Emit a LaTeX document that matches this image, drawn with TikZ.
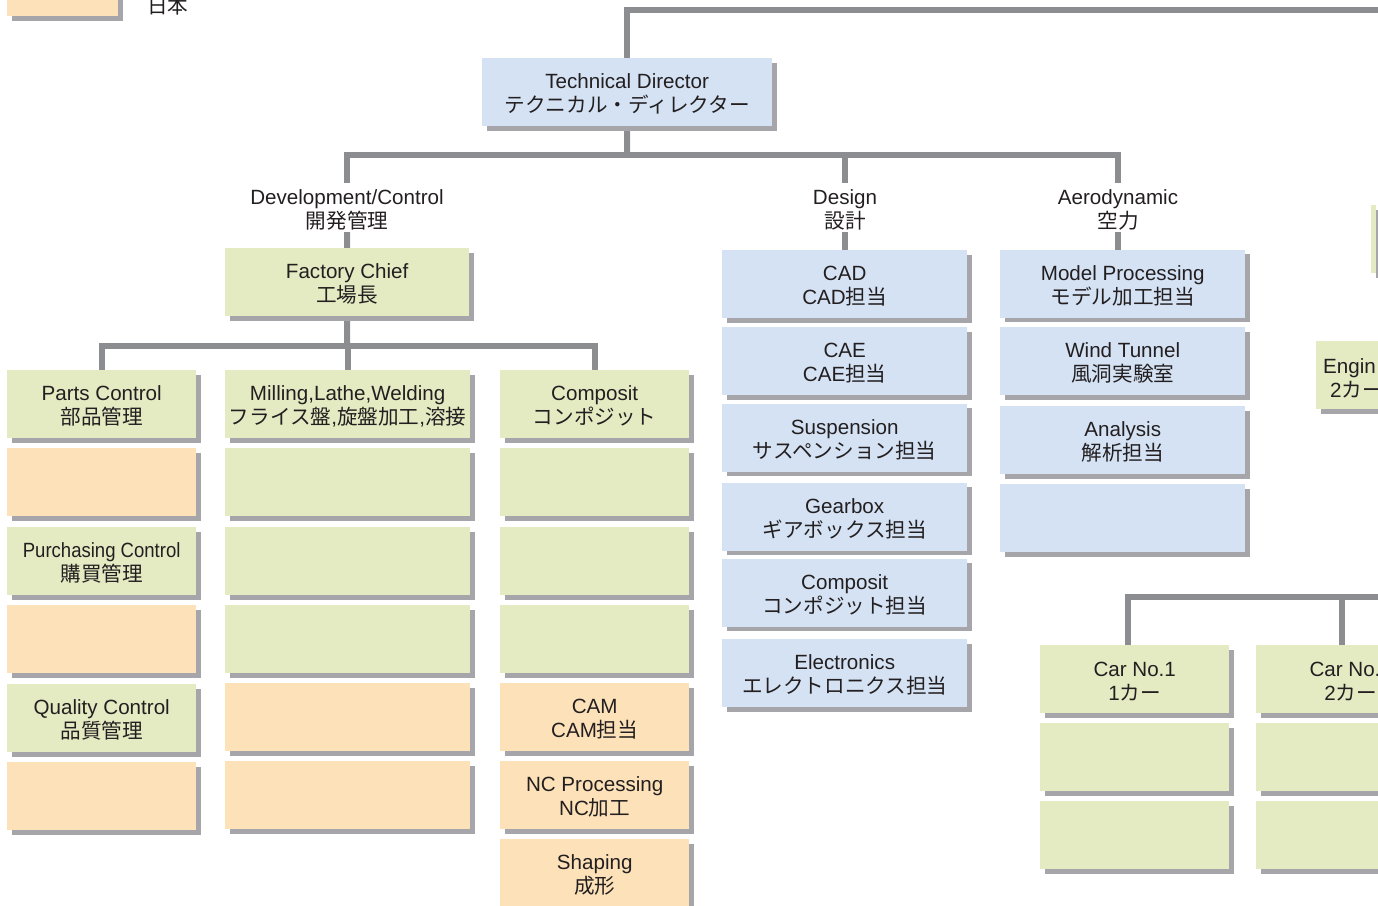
\documentclass[tikz,border=0pt]{standalone}
\usepackage{fontspec}
\setmainfont{Liberation Sans}
\newfontfamily\jpf{Noto Sans CJK JP}
\newcommand{\jp}[1]{{\jpf #1}}
\newcommand{\tl}[2]{\rule{0pt}{19pt}#1\\#2}
\usetikzlibrary{shadows,backgrounds}
\definecolor{cblue}{HTML}{D4E2F4}
\definecolor{cgreen}{HTML}{E4EBC3}
\definecolor{corange}{HTML}{FDE2B9}
\definecolor{cshade}{HTML}{A6A6AA}
\definecolor{cline}{HTML}{8C8D91}
\definecolor{ctext}{HTML}{231F20}
\begin{document}
\begin{tikzpicture}[x=1pt,y=-1pt,
  every node/.style={text=ctext, font=\fontsize{20.6}{24}\selectfont},
  box/.style={anchor=north west, inner sep=0pt, align=center, minimum height=68pt,
    drop shadow={shadow xshift=4.5pt, shadow yshift=-4.5pt, fill=cshade, opacity=1}},
  gbox/.style={box, fill=cgreen},
  bbox/.style={box, fill=cblue},
  obox/.style={box, fill=corange},
  nw/.style={minimum width=189pt},
  ww/.style={minimum width=245pt},
  lbl/.style={inner sep=0pt, minimum height=49pt, align=center},
  conn/.style={draw=cline, line width=6pt, line join=miter}]
\useasboundingbox (0,0) rectangle (1378,905);
\clip (0,0) rectangle (1378,905);

% legend
\node[obox, minimum width=111pt] (leg) at (7,-52) {};
\node[anchor=base west, inner sep=0pt] (legt) at (147,13) {\jp{日本}};

% top
\node[bbox, minimum width=290pt] (td) at (482,58) {\tl{Technical Director}{\jp{テクニカル・ディレクター}}};
\coordinate (topR) at (1395,10);
\coordinate (bus1) at (627,155);

\node[lbl] (dev) at (347,207.5) {\tl{Development/Control}{\jp{開発管理}}};
\node[lbl] (des) at (845,207.5) {\tl{Design}{\jp{設計}}};
\node[lbl] (aer) at (1118,207.5) {\tl{Aerodynamic}{\jp{空力}}};

\node[gbox, minimum width=244pt] (fc) at (225,248) {\tl{Factory Chief}{\jp{工場長}}};
\coordinate (bus2) at (347,346);

% column 1
\node[gbox, nw] (pc) at (7,370) {\tl{Parts Control}{\jp{部品管理}}};
\node[obox, nw] (o11) at (7,448) {};
\node[gbox, nw] (pur) at (7,527) {\tl{\scalebox{0.9}[1]{Purchasing Control}}{\jp{購買管理}}};
\node[obox, nw] (o12) at (7,605) {};
\node[gbox, nw] (qc) at (7,684) {\tl{Quality Control}{\jp{品質管理}}};
\node[obox, nw] (o13) at (7,762) {};

% column 2
\node[gbox, minimum width=245pt] (mill) at (225,370) {\tl{Milling,Lathe,Welding}{\jp{フライス盤},\jp{旋盤加工},\jp{溶接}}};
\node[gbox, minimum width=245pt] (g21) at (225,448) {};
\node[gbox, minimum width=245pt] (g22) at (225,527) {};
\node[gbox, minimum width=245pt] (g23) at (225,605) {};
\node[obox, minimum width=245pt] (o21) at (225,683) {};
\node[obox, minimum width=245pt] (o22) at (225,761) {};

% column 3
\node[gbox, nw] (comp) at (500,370) {\tl{Composit}{\jp{コンポジット}}};
\node[gbox, nw] (g31) at (500,448) {};
\node[gbox, nw] (g32) at (500,527) {};
\node[gbox, nw] (g33) at (500,605) {};
\node[obox, nw] (cam) at (500,683) {\tl{CAM}{CAM\jp{担当}}};
\node[obox, nw] (nc) at (500,761) {\tl{NC Processing}{NC\jp{加工}}};
\node[obox, nw] (shp) at (500,839) {\tl{Shaping}{\jp{成形}}};

% design
\node[bbox, ww] (cad) at (722,250) {\tl{CAD}{CAD\jp{担当}}};
\node[bbox, ww] (cae) at (722,327) {\tl{CAE}{CAE\jp{担当}}};
\node[bbox, ww] (sus) at (722,403.5) {\tl{Suspension}{\jp{サスペンション担当}}};
\node[bbox, ww] (gbx) at (722,482.5) {\tl{Gearbox}{\jp{ギアボックス担当}}};
\node[bbox, ww] (dcomp) at (722,558.5) {\tl{Composit}{\jp{コンポジット担当}}};
\node[bbox, ww] (ele) at (722,639) {\tl{Electronics}{\jp{エレクトロニクス担当}}};

% aero
\node[bbox, ww] (mp) at (1000,249.5) {\tl{Model Processing}{\jp{モデル加工担当}}};
\node[bbox, ww] (wt) at (1000,327) {\tl{Wind Tunnel}{\jp{風洞実験室}}};
\node[bbox, ww] (ana) at (1000,406) {\tl{Analysis}{\jp{解析担当}}};
\node[bbox, ww] (ab) at (1000,484) {};

% right side
\node[gbox, minimum width=5pt] (rs) at (1371,205) {};
\node[gbox, minimum width=100pt] (eng) at (1316,341) {};
\node[anchor=base west, inner sep=0pt] (engt1) at (1323,373) {Engin};
\node[anchor=base west, inner sep=0pt] (engt2) at (1330,397) {2\jp{カー}};

\node[gbox, nw] (car1) at (1040,645) {\tl{Car No.1}{1\jp{カー}}};
\node[gbox, nw] (c12) at (1040,723) {};
\node[gbox, nw] (c13) at (1040,801) {};
\node[gbox, nw] (car2) at (1256,645) {\tl{Car No.\phantom{2}}{2\jp{カー}}};
\node[gbox, nw] (c22) at (1256,723) {};
\node[gbox, nw] (c23) at (1256,801) {};
\coordinate (busR) at (1395,597);

% connectors
\begin{scope}[on background layer]
\draw[conn] (td.north) |- (topR);
\draw[conn] (td.south) -- (bus1);
\draw[conn] (dev.north) |- (bus1) -| (aer.north);
\draw[conn] (des.north) -- (des.north |- bus1);
\draw[conn] (dev.south) -- (fc.north);
\draw[conn] (des.south) -- (des.south |- cad.north);
\draw[conn] (aer.south) -- (aer.south |- mp.north);
\draw[conn] (fc.south) -- (bus2);
\draw[conn] ([xshift=0.5pt]pc.north) |- (bus2) -| ([xshift=0.5pt]comp.north);
\draw[conn] (mill.north) -- (mill.north |- bus2);
\draw[conn] ([xshift=-6.5pt]car1.north) |- (busR);
\draw[conn] ([xshift=-8.5pt]car2.north) -- ([xshift=-8.5pt]car2.north |- busR);
\end{scope}
\end{tikzpicture}
\end{document}
